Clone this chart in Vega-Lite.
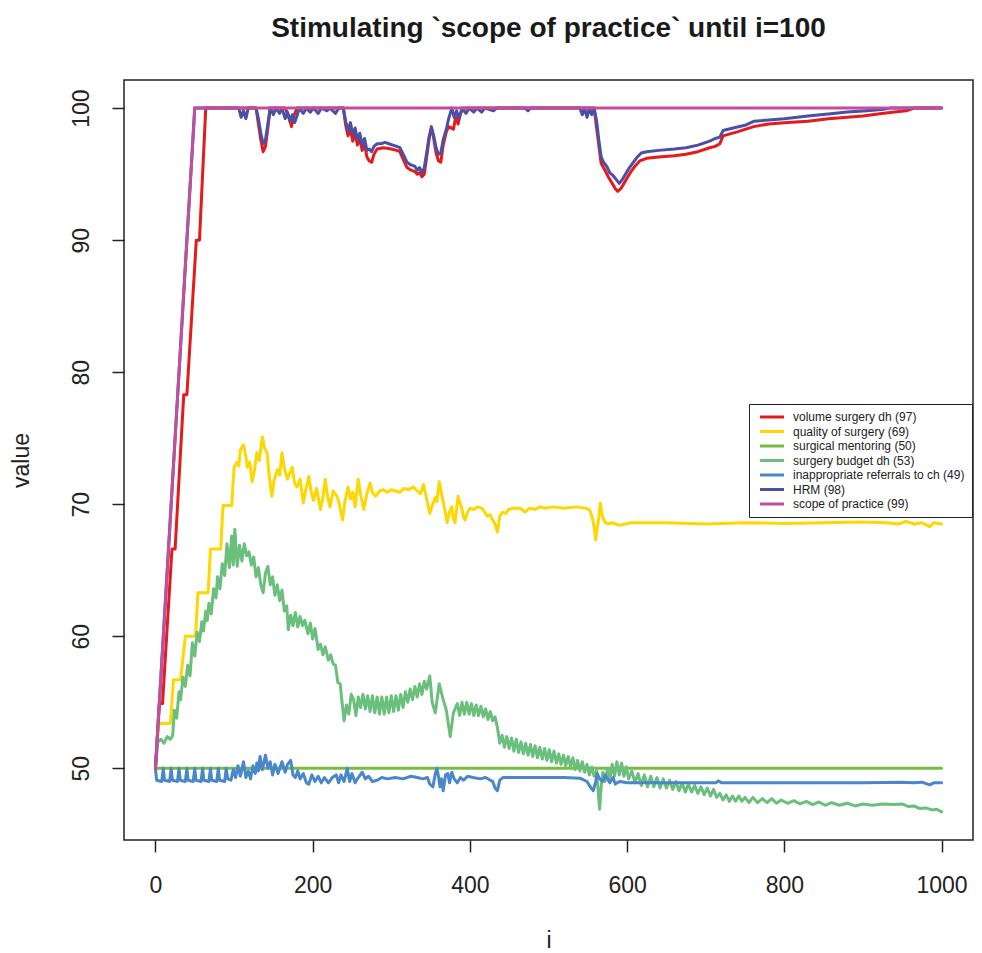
{
"$schema":"https://vega.github.io/schema/vega-lite/v6.json",
"width":849,"height":760,
"autosize":{"type":"none"},
"padding":{"left":124,"top":80,"right":9,"bottom":113},
"background":"white",
"title":{"text":"Stimulating `scope of practice` until i=100","fontSize":28,"fontWeight":"bold","font":"Liberation Sans","anchor":"middle","frame":"group","offset":15,"baseline":"alphabetic","color":"#1a1a1a"},
"config":{"font":"Liberation Sans","view":{"stroke":"#222","strokeWidth":1.5},
"line":{"strokeWidth":3,"strokeJoin":"round","strokeCap":"round"},
"legend":{"orient":"none","legendX":625,"legendY":324,"symbolType":"M-0.5,0H5.5","symbolSize":64,"symbolStrokeWidth":3,"labelFontSize":12,"labelOffset":25,"padding":7,"rowPadding":2.5,"strokeColor":"#222","fillColor":"white","labelColor":"#222","labelLimit":400}},
"datasets":{
"vol":[{"i":0,"v":50},{"i":5,"v":54.9},{"i":9,"v":54.9},{"i":21,"v":66.6},{"i":25,"v":66.6},{"i":36,"v":78.3},{"i":40,"v":78.3},{"i":52,"v":90},{"i":56,"v":90},{"i":64,"v":100},{"i":128,"v":100},{"i":131,"v":98.8},{"i":134,"v":97.6},{"i":137,"v":96.7},{"i":140,"v":97.1},{"i":143,"v":98.5},{"i":146,"v":100},{"i":165,"v":100},{"i":170,"v":99.3},{"i":173,"v":98.6},{"i":176,"v":99.4},{"i":180,"v":100},{"i":239,"v":100},{"i":242,"v":98.7},{"i":245,"v":97.9},{"i":248,"v":98.4},{"i":251,"v":97.5},{"i":254,"v":98.1},{"i":257,"v":97.2},{"i":260,"v":97.7},{"i":263,"v":96.8},{"i":266,"v":97.3},{"i":269,"v":96.3},{"i":272,"v":96.0},{"i":275,"v":95.9},{"i":278,"v":96.5},{"i":282,"v":96.9},{"i":290,"v":97.0},{"i":300,"v":96.9},{"i":307,"v":96.8},{"i":311,"v":96.7},{"i":316,"v":96.0},{"i":320,"v":95.5},{"i":325,"v":95.3},{"i":330,"v":95.2},{"i":333,"v":95.0},{"i":336,"v":95.1},{"i":339,"v":94.8},{"i":342,"v":95.0},{"i":345,"v":96.3},{"i":348,"v":97.6},{"i":351,"v":98.6},{"i":354,"v":97.7},{"i":357,"v":96.6},{"i":360,"v":96.0},{"i":363,"v":95.9},{"i":366,"v":97.2},{"i":370,"v":98.2},{"i":373,"v":98.6},{"i":376,"v":98.5},{"i":379,"v":98.4},{"i":382,"v":99.3},{"i":385,"v":98.8},{"i":388,"v":99.6},{"i":392,"v":100},{"i":558,"v":100},{"i":561,"v":98.6},{"i":564,"v":97.2},{"i":567,"v":95.8},{"i":571,"v":95.4},{"i":576,"v":94.8},{"i":581,"v":94.3},{"i":585,"v":93.9},{"i":588,"v":93.7},{"i":592,"v":93.9},{"i":596,"v":94.3},{"i":600,"v":94.7},{"i":605,"v":95.2},{"i":610,"v":95.6},{"i":616,"v":96.0},{"i":625,"v":96.2},{"i":640,"v":96.3},{"i":660,"v":96.4},{"i":675,"v":96.5},{"i":690,"v":96.7},{"i":705,"v":97.0},{"i":712,"v":97.1},{"i":718,"v":97.3},{"i":722,"v":97.9},{"i":740,"v":98.2},{"i":761,"v":98.6},{"i":780,"v":98.8},{"i":800,"v":98.9},{"i":830,"v":99.0},{"i":856,"v":99.2},{"i":880,"v":99.3},{"i":900,"v":99.4},{"i":924,"v":99.6},{"i":940,"v":99.7},{"i":955,"v":99.8},{"i":965,"v":100},{"i":1000,"v":100}],
"qual":[{"i":0,"v":50},{"i":4,"v":53.4},{"i":19,"v":53.4},{"i":23,"v":56.7},{"i":32,"v":56.7},{"i":38,"v":60.0},{"i":51,"v":60.0},{"i":54,"v":63.3},{"i":67,"v":63.3},{"i":70,"v":66.6},{"i":83,"v":66.6},{"i":86,"v":69.9},{"i":97,"v":69.9},{"i":100,"v":72.8},{"i":104,"v":73.2},{"i":106,"v":72.9},{"i":108,"v":74.1},{"i":112,"v":74.5},{"i":115,"v":73.6},{"i":117,"v":72.8},{"i":120,"v":73.2},{"i":123,"v":71.7},{"i":126,"v":72.6},{"i":129,"v":73.9},{"i":132,"v":73.3},{"i":136,"v":75.1},{"i":139,"v":74.2},{"i":142,"v":73.9},{"i":145,"v":72.0},{"i":148,"v":70.6},{"i":151,"v":71.8},{"i":155,"v":72.6},{"i":158,"v":72.2},{"i":161,"v":73.9},{"i":164,"v":72.7},{"i":168,"v":71.9},{"i":171,"v":72.4},{"i":174,"v":72.8},{"i":177,"v":71.6},{"i":180,"v":71.3},{"i":184,"v":71.9},{"i":188,"v":70.1},{"i":191,"v":71.0},{"i":195,"v":72.1},{"i":198,"v":71.0},{"i":201,"v":70.3},{"i":205,"v":71.2},{"i":210,"v":69.6},{"i":213,"v":70.5},{"i":216,"v":71.9},{"i":219,"v":70.6},{"i":222,"v":69.8},{"i":226,"v":71.0},{"i":231,"v":70.6},{"i":234,"v":70.0},{"i":238,"v":68.8},{"i":241,"v":70.2},{"i":245,"v":71.3},{"i":248,"v":70.4},{"i":251,"v":70.9},{"i":254,"v":69.8},{"i":258,"v":71.9},{"i":261,"v":70.7},{"i":265,"v":69.6},{"i":269,"v":70.8},{"i":273,"v":71.6},{"i":276,"v":70.9},{"i":280,"v":70.6},{"i":285,"v":71.0},{"i":290,"v":71.1},{"i":295,"v":70.9},{"i":300,"v":71.1},{"i":306,"v":71.0},{"i":311,"v":70.9},{"i":316,"v":71.2},{"i":322,"v":71.1},{"i":328,"v":71.3},{"i":333,"v":71.0},{"i":337,"v":70.8},{"i":341,"v":71.5},{"i":345,"v":70.4},{"i":349,"v":69.3},{"i":352,"v":69.9},{"i":356,"v":70.5},{"i":358,"v":70.2},{"i":361,"v":71.7},{"i":364,"v":70.8},{"i":366,"v":70.2},{"i":369,"v":69.3},{"i":371,"v":68.6},{"i":374,"v":69.4},{"i":377,"v":69.8},{"i":379,"v":68.9},{"i":381,"v":68.6},{"i":383,"v":69.6},{"i":385,"v":70.6},{"i":388,"v":70.0},{"i":390,"v":69.6},{"i":392,"v":69.0},{"i":394,"v":68.8},{"i":397,"v":69.4},{"i":400,"v":69.7},{"i":405,"v":69.6},{"i":410,"v":69.8},{"i":415,"v":69.7},{"i":419,"v":69.4},{"i":422,"v":69.1},{"i":426,"v":69.2},{"i":429,"v":68.8},{"i":432,"v":68.5},{"i":435,"v":67.9},{"i":438,"v":69.1},{"i":442,"v":69.4},{"i":446,"v":69.3},{"i":449,"v":69.6},{"i":455,"v":69.7},{"i":464,"v":69.7},{"i":470,"v":69.4},{"i":476,"v":69.7},{"i":483,"v":69.6},{"i":489,"v":69.8},{"i":497,"v":69.7},{"i":505,"v":69.8},{"i":520,"v":69.7},{"i":535,"v":69.8},{"i":548,"v":69.7},{"i":553,"v":69.5},{"i":556,"v":68.9},{"i":558,"v":68.3},{"i":560,"v":67.3},{"i":562,"v":68.2},{"i":564,"v":69.0},{"i":566,"v":70.1},{"i":568,"v":69.2},{"i":571,"v":68.7},{"i":575,"v":68.5},{"i":581,"v":68.6},{"i":590,"v":68.4},{"i":605,"v":68.6},{"i":650,"v":68.6},{"i":700,"v":68.5},{"i":750,"v":68.6},{"i":800,"v":68.55},{"i":850,"v":68.6},{"i":900,"v":68.65},{"i":930,"v":68.6},{"i":945,"v":68.5},{"i":955,"v":68.7},{"i":965,"v":68.5},{"i":975,"v":68.6},{"i":985,"v":68.3},{"i":990,"v":68.6},{"i":1000,"v":68.5}],
"ment":[{"i":0,"v":50},{"i":1000,"v":50}],
"budg":[{"i":0,"v":50},{"i":3,"v":52.0},{"i":7,"v":52.2},{"i":11,"v":51.9},{"i":15,"v":52.4},{"i":19,"v":52.2},{"i":22,"v":52.5},{"i":24,"v":54.4},{"i":27,"v":53.8},{"i":30,"v":55.8},{"i":32,"v":55.2},{"i":35,"v":56.9},{"i":38,"v":56.2},{"i":41,"v":57.8},{"i":44,"v":57.0},{"i":47,"v":59.5},{"i":50,"v":58.5},{"i":53,"v":60.3},{"i":56,"v":59.6},{"i":59,"v":61.1},{"i":61,"v":60.4},{"i":64,"v":61.9},{"i":66,"v":61.2},{"i":68,"v":62.5},{"i":71,"v":61.7},{"i":74,"v":63.6},{"i":77,"v":62.9},{"i":79,"v":64.5},{"i":82,"v":63.6},{"i":85,"v":65.5},{"i":88,"v":64.6},{"i":91,"v":67.0},{"i":94,"v":65.2},{"i":97,"v":67.6},{"i":99,"v":65.4},{"i":101,"v":68.1},{"i":104,"v":65.3},{"i":107,"v":66.9},{"i":110,"v":65.7},{"i":113,"v":67.0},{"i":116,"v":66.1},{"i":119,"v":66.4},{"i":122,"v":65.4},{"i":125,"v":66.0},{"i":128,"v":64.5},{"i":131,"v":65.2},{"i":134,"v":63.9},{"i":137,"v":63.3},{"i":140,"v":64.8},{"i":143,"v":65.3},{"i":146,"v":63.9},{"i":149,"v":64.5},{"i":152,"v":63.1},{"i":155,"v":63.9},{"i":158,"v":62.7},{"i":161,"v":63.5},{"i":164,"v":61.9},{"i":167,"v":62.3},{"i":169,"v":60.5},{"i":172,"v":61.6},{"i":175,"v":60.8},{"i":178,"v":61.8},{"i":181,"v":60.7},{"i":184,"v":61.5},{"i":187,"v":60.8},{"i":190,"v":61.2},{"i":194,"v":60.2},{"i":197,"v":61.0},{"i":200,"v":59.8},{"i":203,"v":60.6},{"i":207,"v":59.0},{"i":210,"v":59.4},{"i":213,"v":58.6},{"i":216,"v":59.2},{"i":220,"v":58.2},{"i":223,"v":58.6},{"i":226,"v":57.9},{"i":229,"v":57.8},{"i":232,"v":56.5},{"i":235,"v":56.4},{"i":237,"v":55.2},{"i":240,"v":53.6},{"i":243,"v":54.8},{"i":246,"v":54.1},{"i":249,"v":55.6},{"i":252,"v":55.2},{"i":255,"v":54.0},{"i":258,"v":55.4},{"i":261,"v":54.6},{"i":264,"v":55.6},{"i":267,"v":54.5},{"i":270,"v":55.5},{"i":273,"v":54.3},{"i":276,"v":55.5},{"i":279,"v":54.2},{"i":282,"v":55.4},{"i":285,"v":54.1},{"i":288,"v":55.4},{"i":291,"v":54.1},{"i":294,"v":55.4},{"i":297,"v":54.2},{"i":300,"v":55.5},{"i":303,"v":54.3},{"i":306,"v":55.5},{"i":309,"v":54.4},{"i":312,"v":55.6},{"i":315,"v":54.6},{"i":318,"v":55.8},{"i":321,"v":55.0},{"i":324,"v":56.0},{"i":327,"v":55.2},{"i":330,"v":56.2},{"i":333,"v":55.4},{"i":336,"v":56.4},{"i":339,"v":55.6},{"i":342,"v":56.6},{"i":345,"v":56.0},{"i":349,"v":57.0},{"i":352,"v":55.0},{"i":356,"v":54.2},{"i":361,"v":56.4},{"i":366,"v":55.2},{"i":370,"v":54.4},{"i":375,"v":52.4},{"i":379,"v":54.2},{"i":384,"v":54.9},{"i":387,"v":54.0},{"i":390,"v":55.0},{"i":393,"v":54.1},{"i":396,"v":55.0},{"i":399,"v":54.1},{"i":402,"v":54.9},{"i":405,"v":54.0},{"i":408,"v":54.8},{"i":411,"v":54.0},{"i":414,"v":54.7},{"i":417,"v":53.9},{"i":420,"v":54.5},{"i":423,"v":53.7},{"i":426,"v":54.3},{"i":429,"v":53.6},{"i":432,"v":53.9},{"i":435,"v":53.1},{"i":438,"v":51.9},{"i":441,"v":52.5},{"i":444,"v":51.6},{"i":447,"v":52.4},{"i":450,"v":51.5},{"i":453,"v":52.3},{"i":456,"v":51.3},{"i":459,"v":52.2},{"i":462,"v":51.2},{"i":465,"v":52.0},{"i":468,"v":51.1},{"i":471,"v":51.9},{"i":474,"v":51.0},{"i":477,"v":51.8},{"i":480,"v":50.9},{"i":483,"v":51.7},{"i":486,"v":50.8},{"i":489,"v":51.6},{"i":492,"v":50.7},{"i":495,"v":51.5},{"i":498,"v":50.6},{"i":501,"v":51.4},{"i":504,"v":50.5},{"i":507,"v":51.3},{"i":510,"v":50.4},{"i":513,"v":51.1},{"i":516,"v":50.3},{"i":519,"v":51.0},{"i":522,"v":50.2},{"i":525,"v":50.9},{"i":528,"v":50.1},{"i":531,"v":50.8},{"i":534,"v":49.9},{"i":537,"v":50.6},{"i":540,"v":49.8},{"i":543,"v":50.5},{"i":546,"v":49.7},{"i":549,"v":50.3},{"i":552,"v":49.5},{"i":555,"v":50.1},{"i":558,"v":49.4},{"i":561,"v":49.8},{"i":563,"v":48.4},{"i":565,"v":46.9},{"i":567,"v":48.6},{"i":569,"v":49.7},{"i":572,"v":49.0},{"i":575,"v":50.0},{"i":578,"v":49.2},{"i":581,"v":50.3},{"i":584,"v":49.4},{"i":587,"v":50.5},{"i":590,"v":49.5},{"i":593,"v":50.4},{"i":596,"v":49.4},{"i":599,"v":50.1},{"i":602,"v":49.2},{"i":606,"v":49.8},{"i":610,"v":48.9},{"i":614,"v":49.6},{"i":618,"v":48.7},{"i":622,"v":49.5},{"i":626,"v":48.6},{"i":630,"v":49.4},{"i":634,"v":48.6},{"i":638,"v":49.3},{"i":642,"v":48.5},{"i":646,"v":49.2},{"i":650,"v":48.5},{"i":654,"v":49.1},{"i":658,"v":48.4},{"i":662,"v":49.0},{"i":666,"v":48.3},{"i":670,"v":48.9},{"i":674,"v":48.2},{"i":678,"v":48.8},{"i":682,"v":48.2},{"i":686,"v":48.7},{"i":690,"v":48.1},{"i":694,"v":48.6},{"i":698,"v":48.0},{"i":702,"v":48.5},{"i":706,"v":47.9},{"i":710,"v":48.4},{"i":714,"v":47.8},{"i":718,"v":48.1},{"i":722,"v":47.6},{"i":726,"v":48.0},{"i":730,"v":47.5},{"i":734,"v":47.9},{"i":738,"v":47.5},{"i":742,"v":47.9},{"i":746,"v":47.5},{"i":750,"v":47.8},{"i":755,"v":47.4},{"i":760,"v":47.8},{"i":766,"v":47.4},{"i":772,"v":47.7},{"i":778,"v":47.4},{"i":784,"v":47.7},{"i":790,"v":47.35},{"i":796,"v":47.6},{"i":804,"v":47.35},{"i":812,"v":47.55},{"i":820,"v":47.3},{"i":828,"v":47.5},{"i":836,"v":47.25},{"i":844,"v":47.45},{"i":852,"v":47.2},{"i":860,"v":47.4},{"i":870,"v":47.2},{"i":880,"v":47.35},{"i":890,"v":47.15},{"i":900,"v":47.3},{"i":912,"v":47.2},{"i":925,"v":47.3},{"i":940,"v":47.25},{"i":950,"v":47.3},{"i":958,"v":47.1},{"i":965,"v":47.15},{"i":972,"v":46.95},{"i":980,"v":47.0},{"i":988,"v":46.85},{"i":994,"v":46.9},{"i":1000,"v":46.7}],
"refs":[{"i":0,"v":50},{"i":1.5,"v":49.1},{"i":8,"v":49.0},{"i":10,"v":50},{"i":11.5,"v":49.1},{"i":18,"v":49.0},{"i":20,"v":50},{"i":21.5,"v":49.1},{"i":28,"v":49.0},{"i":30,"v":50},{"i":31.5,"v":49.1},{"i":38,"v":49.0},{"i":40,"v":50},{"i":41.5,"v":49.1},{"i":48,"v":49.0},{"i":50,"v":50},{"i":51.5,"v":49.1},{"i":58,"v":49.0},{"i":60,"v":50},{"i":61.5,"v":49.1},{"i":68,"v":49.0},{"i":70,"v":50},{"i":71.5,"v":49.1},{"i":78,"v":49.0},{"i":80,"v":50},{"i":81.5,"v":49.1},{"i":88,"v":49.0},{"i":90,"v":50},{"i":92,"v":49.2},{"i":96,"v":49.1},{"i":99,"v":49.9},{"i":102,"v":49.3},{"i":105,"v":50.2},{"i":108,"v":49.4},{"i":112,"v":50.5},{"i":115,"v":49.3},{"i":118,"v":49.8},{"i":121,"v":49.2},{"i":124,"v":50.2},{"i":127,"v":49.6},{"i":129,"v":50.4},{"i":131,"v":49.8},{"i":133,"v":50.9},{"i":136,"v":49.9},{"i":140,"v":51.0},{"i":143,"v":50.0},{"i":146,"v":50.5},{"i":149,"v":49.5},{"i":152,"v":50.3},{"i":156,"v":49.6},{"i":161,"v":50.5},{"i":165,"v":49.7},{"i":168,"v":50.3},{"i":172,"v":50.6},{"i":175,"v":49.5},{"i":178,"v":49.3},{"i":181,"v":49.8},{"i":184,"v":49.2},{"i":188,"v":49.6},{"i":192,"v":48.9},{"i":195,"v":48.8},{"i":199,"v":49.5},{"i":203,"v":49.0},{"i":207,"v":49.4},{"i":211,"v":48.9},{"i":215,"v":49.3},{"i":220,"v":48.9},{"i":225,"v":49.3},{"i":230,"v":49.5},{"i":233,"v":48.9},{"i":236,"v":49.5},{"i":240,"v":49.0},{"i":244,"v":50.0},{"i":247,"v":49.0},{"i":250,"v":49.6},{"i":254,"v":48.9},{"i":258,"v":49.3},{"i":263,"v":49.7},{"i":267,"v":49.2},{"i":271,"v":49.4},{"i":276,"v":49.0},{"i":282,"v":49.1},{"i":288,"v":49.3},{"i":295,"v":49.2},{"i":305,"v":49.3},{"i":315,"v":49.2},{"i":325,"v":49.4},{"i":333,"v":49.3},{"i":340,"v":49.2},{"i":346,"v":49.3},{"i":349,"v":48.8},{"i":353,"v":48.6},{"i":356,"v":49.6},{"i":358,"v":50.0},{"i":360,"v":49.4},{"i":362,"v":48.6},{"i":364,"v":49.2},{"i":366,"v":48.3},{"i":369,"v":49.5},{"i":372,"v":49.6},{"i":374,"v":48.9},{"i":377,"v":49.7},{"i":380,"v":49.2},{"i":384,"v":48.9},{"i":388,"v":49.3},{"i":392,"v":49.1},{"i":397,"v":49.4},{"i":404,"v":49.3},{"i":413,"v":49.2},{"i":420,"v":49.3},{"i":426,"v":49.1},{"i":429,"v":49.0},{"i":432,"v":48.5},{"i":435,"v":48.3},{"i":438,"v":49.1},{"i":442,"v":49.3},{"i":450,"v":49.3},{"i":464,"v":49.3},{"i":480,"v":49.3},{"i":498,"v":49.3},{"i":520,"v":49.3},{"i":540,"v":49.25},{"i":549,"v":49.0},{"i":553,"v":48.6},{"i":557,"v":48.3},{"i":560,"v":49.0},{"i":562,"v":49.6},{"i":565,"v":49.2},{"i":569,"v":49.0},{"i":572,"v":49.5},{"i":574,"v":49.3},{"i":578,"v":48.9},{"i":582,"v":49.3},{"i":585,"v":48.8},{"i":587,"v":48.9},{"i":591,"v":49.0},{"i":600,"v":48.9},{"i":616,"v":48.9},{"i":650,"v":48.9},{"i":690,"v":48.9},{"i":713,"v":48.9},{"i":716,"v":49.05},{"i":720,"v":48.9},{"i":800,"v":48.9},{"i":900,"v":48.9},{"i":950,"v":48.95},{"i":965,"v":48.9},{"i":975,"v":48.95},{"i":985,"v":48.75},{"i":990,"v":48.9},{"i":1000,"v":48.9}],
"hrm":[{"i":0,"v":50},{"i":50,"v":100},{"i":106,"v":100},{"i":109,"v":99.3},{"i":112,"v":99.8},{"i":115,"v":99.2},{"i":118,"v":100},{"i":128,"v":100},{"i":131,"v":99.2},{"i":134,"v":98.1},{"i":137,"v":97.3},{"i":140,"v":97.6},{"i":143,"v":98.8},{"i":146,"v":100},{"i":150,"v":99.5},{"i":153,"v":100},{"i":158,"v":99.6},{"i":161,"v":100},{"i":165,"v":99.2},{"i":168,"v":99.7},{"i":171,"v":99.0},{"i":174,"v":99.5},{"i":177,"v":98.9},{"i":180,"v":99.4},{"i":183,"v":100},{"i":188,"v":99.6},{"i":192,"v":100},{"i":197,"v":99.7},{"i":201,"v":100},{"i":207,"v":99.6},{"i":211,"v":100},{"i":218,"v":99.8},{"i":222,"v":100},{"i":229,"v":99.6},{"i":233,"v":100},{"i":239,"v":100},{"i":242,"v":99.0},{"i":245,"v":98.3},{"i":248,"v":98.9},{"i":251,"v":98.0},{"i":254,"v":98.5},{"i":257,"v":97.6},{"i":260,"v":98.1},{"i":263,"v":97.2},{"i":266,"v":97.7},{"i":269,"v":96.8},{"i":272,"v":96.9},{"i":275,"v":96.7},{"i":278,"v":97.1},{"i":282,"v":97.3},{"i":287,"v":97.3},{"i":292,"v":97.4},{"i":297,"v":97.3},{"i":302,"v":97.2},{"i":307,"v":97.1},{"i":311,"v":97.0},{"i":316,"v":96.4},{"i":320,"v":95.9},{"i":325,"v":95.7},{"i":330,"v":95.6},{"i":333,"v":95.3},{"i":336,"v":95.5},{"i":339,"v":95.1},{"i":342,"v":95.5},{"i":345,"v":96.6},{"i":348,"v":97.8},{"i":351,"v":98.5},{"i":354,"v":97.9},{"i":357,"v":97.0},{"i":360,"v":96.5},{"i":363,"v":96.6},{"i":366,"v":97.6},{"i":370,"v":98.4},{"i":373,"v":99.2},{"i":377,"v":100},{"i":380,"v":99.3},{"i":383,"v":99.8},{"i":386,"v":99.2},{"i":390,"v":100},{"i":395,"v":99.6},{"i":399,"v":100},{"i":405,"v":99.7},{"i":409,"v":100},{"i":415,"v":99.7},{"i":419,"v":100},{"i":430,"v":99.8},{"i":434,"v":100},{"i":470,"v":100},{"i":474,"v":99.8},{"i":477,"v":100},{"i":540,"v":100},{"i":543,"v":99.5},{"i":546,"v":100},{"i":549,"v":99.3},{"i":552,"v":100},{"i":555,"v":99.5},{"i":558,"v":100},{"i":561,"v":99.1},{"i":564,"v":97.6},{"i":567,"v":96.3},{"i":570,"v":95.9},{"i":574,"v":95.6},{"i":578,"v":95.1},{"i":582,"v":94.9},{"i":586,"v":94.6},{"i":590,"v":94.3},{"i":594,"v":94.6},{"i":598,"v":95.0},{"i":603,"v":95.5},{"i":608,"v":95.9},{"i":613,"v":96.3},{"i":618,"v":96.6},{"i":625,"v":96.7},{"i":640,"v":96.8},{"i":660,"v":96.9},{"i":675,"v":97.0},{"i":690,"v":97.2},{"i":705,"v":97.5},{"i":712,"v":97.7},{"i":718,"v":97.8},{"i":722,"v":98.3},{"i":735,"v":98.5},{"i":750,"v":98.7},{"i":761,"v":99.0},{"i":780,"v":99.1},{"i":800,"v":99.2},{"i":830,"v":99.4},{"i":856,"v":99.55},{"i":880,"v":99.7},{"i":905,"v":99.8},{"i":924,"v":99.9},{"i":935,"v":100},{"i":1000,"v":100}],
"scope":[{"i":0,"v":50},{"i":50,"v":100},{"i":1000,"v":100}]
},
"encoding":{
"x":{"field":"i","type":"quantitative","scale":{"domain":[-40,1040],"nice":false,"zero":false},"axis":{"values":[0,200,400,600,800,1000],"format":"d","tickSize":12,"tickWidth":1.5,"tickColor":"#222","labelFontSize":23,"labelColor":"#222","labelPadding":22,"domain":false,"grid":false,"title":"i","titleFontSize":23,"titleFontWeight":"normal","titleColor":"#222","titleX":424.5,"titleY":107,"titleBaseline":"alphabetic","titleAlign":"center"}},
"y":{"field":"v","type":"quantitative","scale":{"domain":[44.57,102.13],"nice":false,"zero":false},"axis":{"values":[50,60,70,80,90,100],"format":"d","tickSize":12,"tickWidth":1.5,"tickColor":"#222","labelFontSize":23,"labelColor":"#222","labelPadding":24,"labelAngle":-90,"labelAlign":"center","labelBaseline":"alphabetic","domain":false,"grid":false,"title":"value","titleFontSize":23,"titleFontWeight":"normal","titleColor":"#222","titleAngle":-90,"titleX":-96,"titleY":380,"titleAlign":"center","titleBaseline":"alphabetic"}}
},
"layer":[
{"data":{"name":"vol"},"mark":"line","encoding":{"color":{"datum":"volume surgery dh (97)","type":"nominal","scale":{"domain":["volume surgery dh (97)","quality of surgery (69)","surgical mentoring (50)","surgery budget dh (53)","inappropriate referrals to ch (49)","HRM (98)","scope of practice (99)"],"range":["#E41A1C","#FFD700","#76BD42","#6BBF7D","#4A87C9","#4B4FA5","#C24E9E"]},"legend":{"title":null,"orient":"none","legendX":625,"legendY":324}}}},
{"data":{"name":"qual"},"mark":"line","encoding":{"color":{"datum":"quality of surgery (69)","type":"nominal","scale":{"domain":["volume surgery dh (97)","quality of surgery (69)","surgical mentoring (50)","surgery budget dh (53)","inappropriate referrals to ch (49)","HRM (98)","scope of practice (99)"],"range":["#E41A1C","#FFD700","#76BD42","#6BBF7D","#4A87C9","#4B4FA5","#C24E9E"]}}}},
{"data":{"name":"ment"},"mark":"line","encoding":{"color":{"datum":"surgical mentoring (50)","type":"nominal","scale":{"domain":["volume surgery dh (97)","quality of surgery (69)","surgical mentoring (50)","surgery budget dh (53)","inappropriate referrals to ch (49)","HRM (98)","scope of practice (99)"],"range":["#E41A1C","#FFD700","#76BD42","#6BBF7D","#4A87C9","#4B4FA5","#C24E9E"]}}}},
{"data":{"name":"budg"},"mark":"line","encoding":{"color":{"datum":"surgery budget dh (53)","type":"nominal","scale":{"domain":["volume surgery dh (97)","quality of surgery (69)","surgical mentoring (50)","surgery budget dh (53)","inappropriate referrals to ch (49)","HRM (98)","scope of practice (99)"],"range":["#E41A1C","#FFD700","#76BD42","#6BBF7D","#4A87C9","#4B4FA5","#C24E9E"]}}}},
{"data":{"name":"refs"},"mark":"line","encoding":{"color":{"datum":"inappropriate referrals to ch (49)","type":"nominal","scale":{"domain":["volume surgery dh (97)","quality of surgery (69)","surgical mentoring (50)","surgery budget dh (53)","inappropriate referrals to ch (49)","HRM (98)","scope of practice (99)"],"range":["#E41A1C","#FFD700","#76BD42","#6BBF7D","#4A87C9","#4B4FA5","#C24E9E"]}}}},
{"data":{"name":"hrm"},"mark":"line","encoding":{"color":{"datum":"HRM (98)","type":"nominal","scale":{"domain":["volume surgery dh (97)","quality of surgery (69)","surgical mentoring (50)","surgery budget dh (53)","inappropriate referrals to ch (49)","HRM (98)","scope of practice (99)"],"range":["#E41A1C","#FFD700","#76BD42","#6BBF7D","#4A87C9","#4B4FA5","#C24E9E"]}}}},
{"data":{"name":"scope"},"mark":"line","encoding":{"color":{"datum":"scope of practice (99)","type":"nominal","scale":{"domain":["volume surgery dh (97)","quality of surgery (69)","surgical mentoring (50)","surgery budget dh (53)","inappropriate referrals to ch (49)","HRM (98)","scope of practice (99)"],"range":["#E41A1C","#FFD700","#76BD42","#6BBF7D","#4A87C9","#4B4FA5","#C24E9E"]}}}}
]
}
